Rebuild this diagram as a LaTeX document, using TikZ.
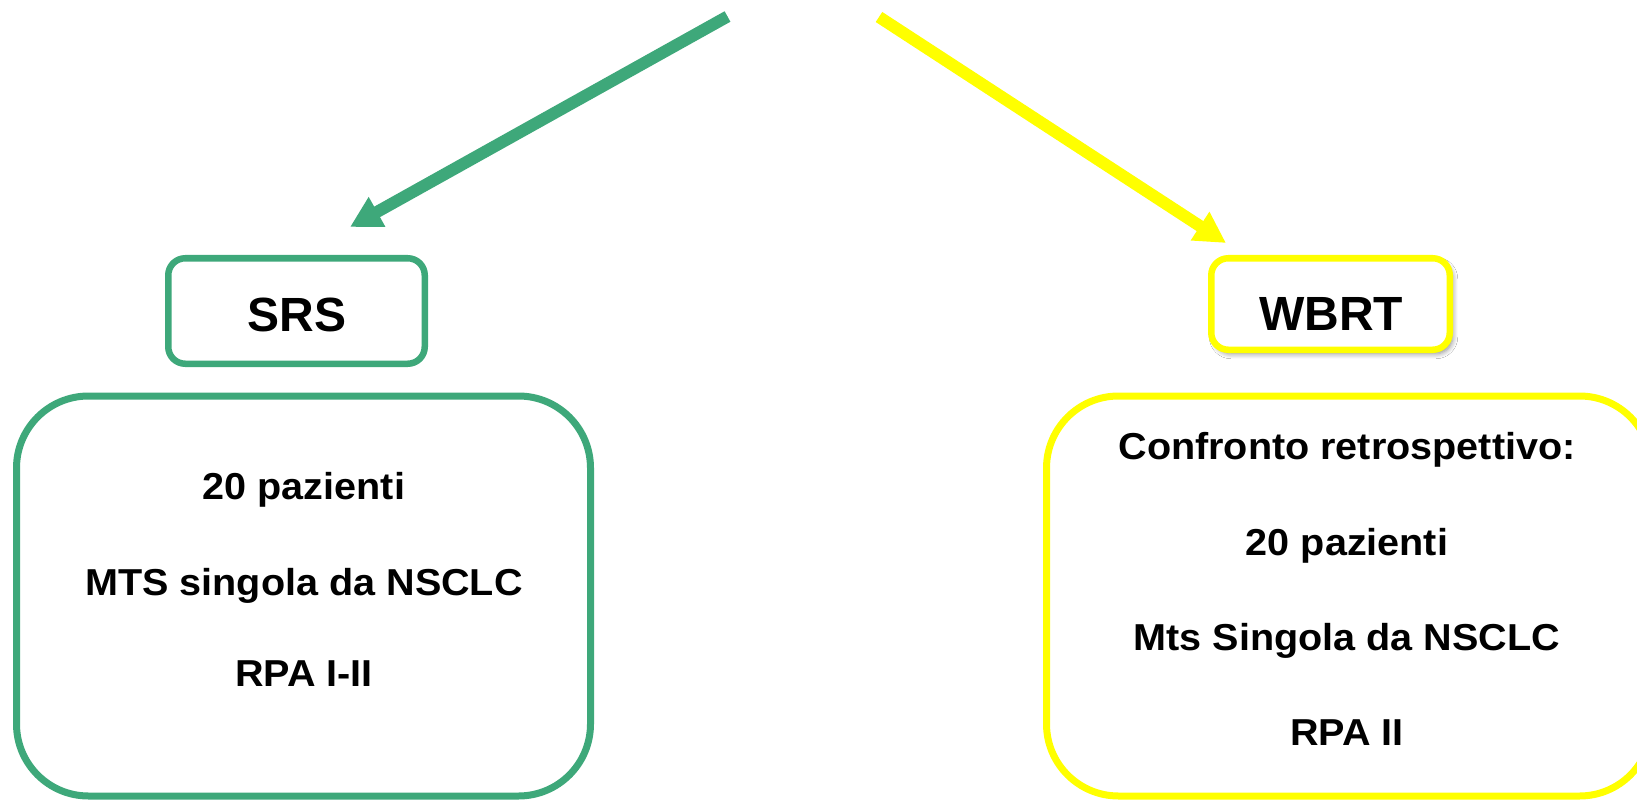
\documentclass[tikz,border=0pt]{standalone}
\usepackage{fontspec}
\setmainfont{Liberation Sans}
\newfontfamily\bodyfont[FakeStretch=1.055]{Liberation Sans}
\usetikzlibrary{arrows.meta,shadows.blur}
\definecolor{srsgreen}{RGB}{62,168,122}
\definecolor{wbyellow}{RGB}{255,255,0}
\begin{document}
\begin{tikzpicture}[x=1pt,y=-1pt,
  titletext/.style={font=\fontsize{48}{56}\selectfont\bfseries, inner sep=0pt, anchor=base},
  bodytext/.style={font=\bodyfont\fontsize{37.5}{44}\selectfont\bfseries, inner sep=0pt, anchor=base},
  smallbox/.style={draw, line width=6.5pt, rounded corners=17pt, inner sep=0pt, fill=white},
  bigbox/.style={draw, line width=7pt, rounded corners=72pt, inner sep=0pt, minimum height=400pt},
  arr/.style={line width=12pt, -{Triangle[length=31pt,width=32pt]}}
]
\useasboundingbox (0,0) rectangle (1637,802);
\fill[white] (0,0) rectangle (1637,802);
\clip (0,0) rectangle (1637,802);

% big boxes
\node[bigbox, draw=srsgreen, minimum width=574pt] (gbox) at (303.5,596) {};
\node[bigbox, draw=wbyellow, minimum width=605pt] (ybox) at (1349,596) {};

% small boxes
\node[smallbox, draw=srsgreen, minimum width=256.5pt, minimum height=105.5pt] (srs) at (296.5,311) {};
\node[smallbox, draw=wbyellow, minimum width=238.5pt, minimum height=91.5pt,
      blur shadow={shadow xshift=3pt, shadow yshift=-4pt, shadow blur steps=6, shadow blur radius=5pt, shadow opacity=45}] (wbrt) at (1330.5,304) {};

\node[titletext] (srst) at (297,331) {SRS};
\node[titletext] (wbrtt) at (1331,330) {WBRT};

% left texts
\node[bodytext] (g1) at (304,499) {20 pazienti};
\node[bodytext] (g2) at (304,595) {MTS singola da NSCLC};
\node[bodytext] (g3) at (304,686) {RPA I-II};

% right texts
\node[bodytext] (y1) at (1347,459) {Confronto retrospettivo:};
\node[bodytext] (y2) at (1347,555) {20 pazienti};
\node[bodytext] (y3) at (1347,650) {Mts Singola da NSCLC};
\node[bodytext] (y4) at (1347,745) {RPA II};

% arrows
\coordinate (gs) at (727.5,16.5);
\coordinate (ge) at (350,227);
\coordinate (ys) at (879,17);
\coordinate (ye) at (1226,243);
\draw[arr, draw=srsgreen, fill=srsgreen] (gs) -- (ge);
\draw[arr, draw=wbyellow, fill=wbyellow] (ys) -- (ye);
\end{tikzpicture}
\end{document}
